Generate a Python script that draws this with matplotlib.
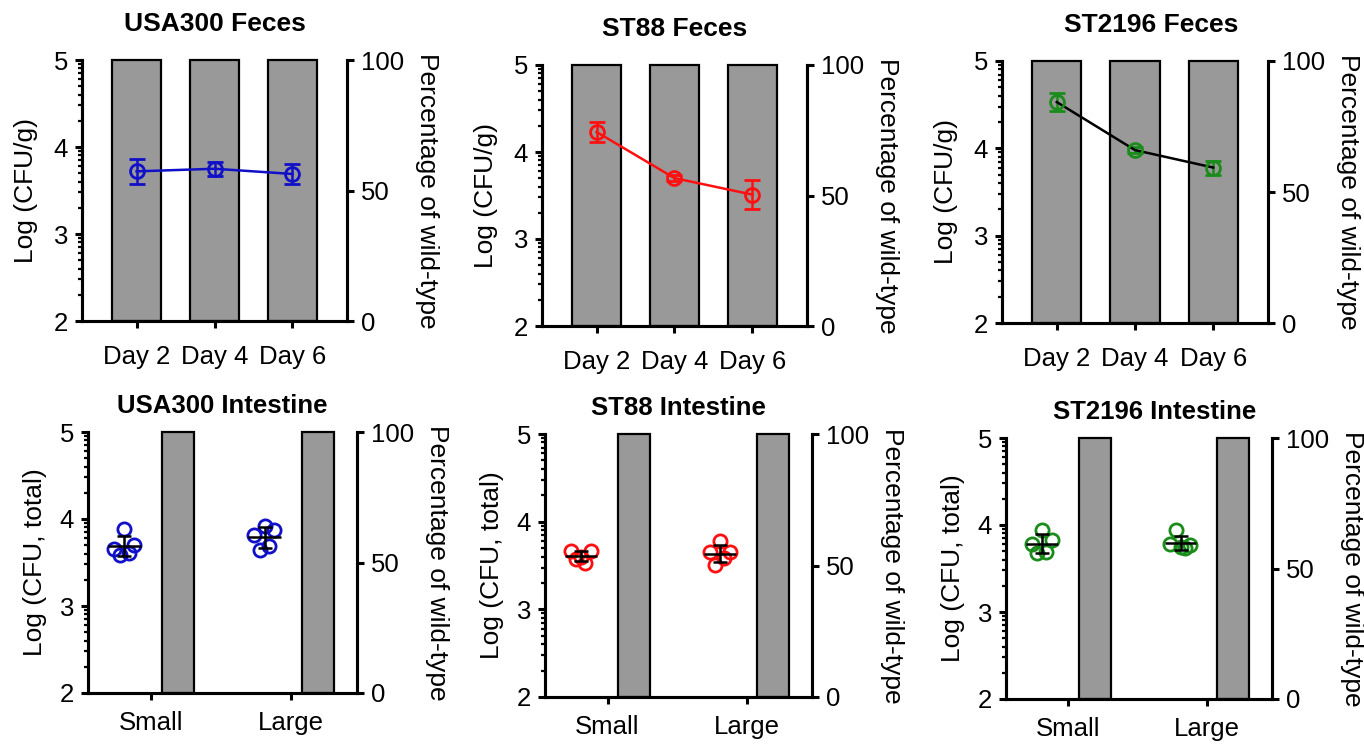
import numpy as np
import matplotlib
matplotlib.use('Agg')
import matplotlib.pyplot as plt
from matplotlib.ticker import FixedLocator

plt.rcParams['font.family'] = ['Liberation Sans', 'DejaVu Sans']

strains = ['USA300', 'ST88', 'ST2196']
days = ['Day 2', 'Day 4', 'Day 6']
sites = ['Small', 'Large']

# feces: mean +/- SD of log CFU/g
usa300_feces_mean = [3.72, 3.75, 3.69]
usa300_feces_sd = [0.14, 0.08, 0.12]
st88_feces_mean = [4.23, 3.70, 3.51]
st88_feces_sd = [0.12, 0.03, 0.17]
st2196_feces_mean = [4.53, 3.98, 3.78]
st2196_feces_sd = [0.10, 0.03, 0.08]
feces_pct = [100, 100, 100]

# intestine: individual mice, log CFU total
usa300_small = [3.88, 3.66, 3.59, 3.61, 3.70]
usa300_large = [3.92, 3.82, 3.64, 3.69, 3.87]
st88_small = [3.60, 3.66, 3.57, 3.53, 3.66]
st88_large = [3.78, 3.65, 3.51, 3.59, 3.65]
st2196_small = [3.94, 3.78, 3.68, 3.69, 3.83]
st2196_large = [3.75, 3.78, 3.94, 3.73, 3.77]
intestine_pct = [100, 100]

feces_mean = [usa300_feces_mean, st88_feces_mean, st2196_feces_mean]
feces_sd = [usa300_feces_sd, st88_feces_sd, st2196_feces_sd]
intestine = [[usa300_small, usa300_large], [st88_small, st88_large],
             [st2196_small, st2196_large]]

marker_colors = ['#1010C8', '#FF1010', '#1A8C1A']
line_colors = ['#1010C8', '#FF1010', 'black']
jitter = [0.0, -0.075, -0.035, 0.03, 0.07]
bar_color = '#999999'

# axes boxes in pixels: left, right, top, bottom
top_boxes = [(82, 347, 60, 321), (542, 807, 65, 326), (1002, 1268, 61, 323)]
bot_boxes = [(88, 357, 432, 693), (545, 812, 434, 697), (1006, 1272, 438, 699)]
title_x = [0.5, 0.5, 0.56]

W, H = 1364, 748
fig = plt.figure(figsize=(W / 100, H / 100), dpi=100)

minor = [d + np.log10(k) for d in range(2, 5) for k in range(2, 10)]
LW = 2.2
TICK_FS = 18.5
LABEL_FS = 19


def make_axes(box, xpad):
    l, r, t, b = box
    ax = fig.add_axes([l / W, 1 - b / H, (r - l) / W, (b - t) / H])
    ax2 = ax.twinx()
    ax.set_zorder(ax2.get_zorder() + 1)
    ax.patch.set_visible(False)
    for a in (ax, ax2):
        a.spines['top'].set_visible(False)
        for s in ('left', 'right', 'bottom'):
            a.spines[s].set_linewidth(LW)
    ax.set_ylim(2, 5)
    ax.set_yticks([2, 3, 4, 5])
    ax.yaxis.set_minor_locator(FixedLocator(minor))
    ax.tick_params(axis='y', which='major', width=LW, length=5,
                   labelsize=TICK_FS, pad=5)
    ax.tick_params(axis='x', which='major', width=LW, length=5,
                   labelsize=TICK_FS, pad=xpad)
    ax.tick_params(axis='y', which='minor', width=1.6, length=3)
    ax2.set_ylim(0, 100)
    ax2.set_yticks([0, 50, 100])
    ax2.tick_params(axis='y', width=LW, length=5, labelsize=TICK_FS, pad=5)
    ax2.set_ylabel('Percentage of wild-type', fontsize=LABEL_FS,
                   rotation=270, va='bottom', labelpad=8)
    return ax, ax2


for i, strain in enumerate(strains):
    # feces over time
    ax, ax2 = make_axes(top_boxes[i], 12)
    x = np.arange(len(days))
    ax2.bar(x, feces_pct, width=0.63, color=bar_color, edgecolor='black',
            linewidth=1.6, clip_on=False)
    ax.errorbar(x, feces_mean[i], yerr=feces_sd[i], color=line_colors[i],
                ecolor=marker_colors[i], elinewidth=1.8, capsize=6,
                capthick=1.8, lw=1.8, marker='o', ms=10, mfc='none',
                mec=marker_colors[i], mew=2)
    ax.set_xlim(-0.7, 2.7)
    ax.set_xticks(x)
    ax.set_xticklabels(days)
    ax.set_ylabel('Log (CFU/g)', fontsize=LABEL_FS, labelpad=11)
    ax.set_title(f'{strain} Feces', fontsize=19, fontweight='bold', pad=21,
                 x=title_x[i])

    # intestine sections
    ax, ax2 = make_axes(bot_boxes[i], 8)
    x = np.arange(len(sites))
    ax2.bar(x + 0.19, intestine_pct, width=0.23, color=bar_color,
            edgecolor='black', linewidth=1.6, clip_on=False)
    for j, pts in enumerate(intestine[i]):
        xc = x[j] - 0.19
        ax.plot(xc + np.array(jitter), pts, 'o', ms=9.5, mfc='none',
                mec=marker_colors[i], mew=2, zorder=3)
        m = np.mean(pts)
        sd = np.std(pts, ddof=1)
        ax.hlines(m, xc - 0.115, xc + 0.115, color='black', lw=1.8, zorder=4)
        ax.errorbar(xc, m, yerr=sd, color='black', elinewidth=1.8,
                    capsize=5, capthick=1.8, zorder=4)
    ax.set_xlim(-0.45, 1.47)
    ax.set_xticks(x)
    ax.set_xticklabels(sites)
    ax.set_ylabel('Log (CFU, total)', fontsize=LABEL_FS, labelpad=9)
    ax.set_title(f'{strain} Intestine', fontsize=18.5, fontweight='bold',
                 pad=14, x=title_x[i])

fig.savefig('out.png', dpi=100)
